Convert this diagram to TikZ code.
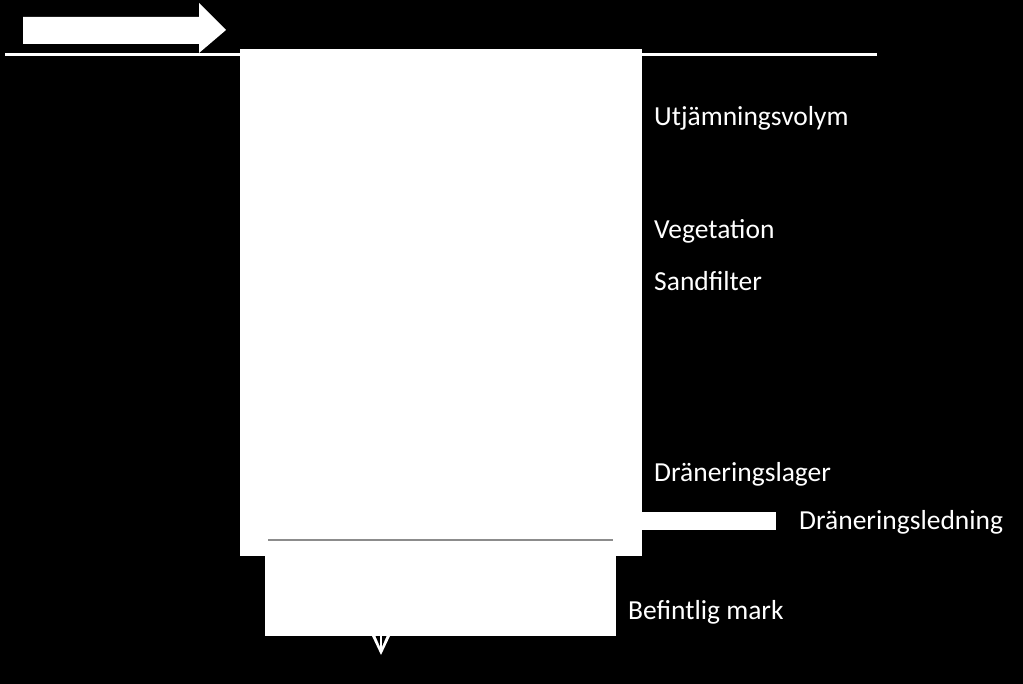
\documentclass[tikz,border=0pt]{standalone}
\usepackage{fontspec}
\setmainfont{Carlito}
\usetikzlibrary{arrows.meta}
\begin{document}
\begin{tikzpicture}[x=1pt,y=-1pt,
  lbl/.style={anchor=base west,inner sep=0pt,text=white,font=\fontsize{27.5}{32}\selectfont},
  layer/.style={fill=white,draw=none}]
\fill[black] (0,0) rectangle (1023,684);
\useasboundingbox (0,0) rectangle (1023,684);
% ground line
\coordinate (gl) at (5,54.5);
\coordinate (gr) at (877,54.5);
\draw[white,line width=3pt] (gl) -- (gr);
% flow arrow
\fill[white] (23,17) -- (199,17) -- (199,3) -- (226,30) -- (199,53) -- (199,44) -- (23,44) -- cycle;
% main box
\node[layer,minimum width=402pt,minimum height=507pt,inner sep=0pt,anchor=north west] (main) at (240,49) {};
% drain pipe
\node[layer,minimum width=134pt,minimum height=18pt,inner sep=0pt,anchor=north west] (pipe) at (642,512) {};
% existing ground
\node[layer,minimum width=351pt,minimum height=81pt,inner sep=0pt,anchor=north west] (mark) at (265,555) {};
% thin grey line
\coordinate (tl) at (268,540);
\coordinate (tr) at (613,540);
\draw[gray!90,line width=1.3pt] (tl) -- (tr);
% infiltration arrow
\coordinate (inf) at (381,636);
\coordinate (infend) at (381,655);
\fill[white] (372,636) -- (390,636) -- (infend) -- cycle;
\fill[black] (375.5,636) -- (386.5,636) -- (381,649) -- cycle;
\draw[white,line width=1.5pt] (inf) -- (381,649);
% labels
\node[lbl] (t1) at (654,126) {Utjämningsvolym};
\node[lbl] (t2) at (654,239) {Vegetation};
\node[lbl] (t3) at (654,291) {Sandfilter};
\node[lbl] (t4) at (654,482) {Dräneringslager};
\node[lbl] (t5) at (799,529) {Dräneringsledning};
\node[lbl] (t6) at (628,619) {Befintlig mark};
\end{tikzpicture}
\end{document}
